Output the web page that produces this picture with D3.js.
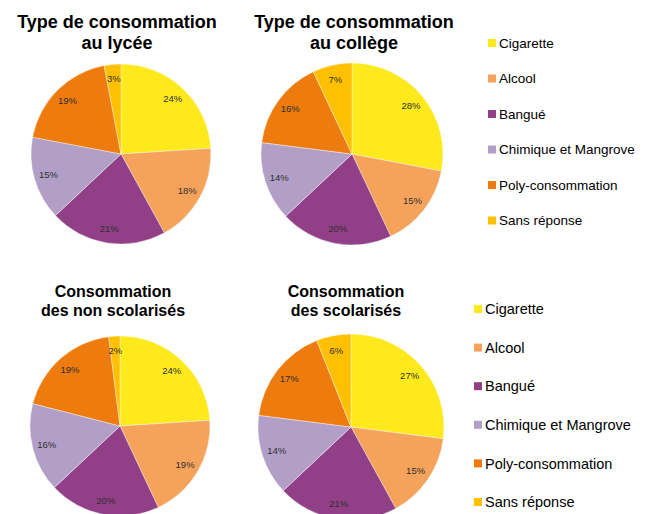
<!DOCTYPE html>
<html>
<head>
<meta charset="utf-8">
<title>Types de consommation</title>
<style>
body {
	margin: 0;
	background: #ffffff;
}
#chart {
	display: block;
}
</style>
<script src="https://d3js.org/d3.v7.min.js"></script>
</head>
<body>
<svg id="chart" width="653" height="514"></svg>
<script>
var categories = ["Cigarette", "Alcool", "Bangué", "Chimique et Mangrove", "Poly-consommation", "Sans réponse"];
var colors = ["#fde91c", "#f5a25b", "#913f86", "#b19fc7", "#ed7b0e", "#ffc000"];

var lyceeValues = [24, 18, 21, 15, 19, 3];
var collegeValues = [28, 15, 20, 14, 16, 7];
var nonScolValues = [24, 19, 20, 16, 19, 2];
var scolValues = [27, 15, 21, 14, 17, 6];

var titles = [
	["Type de consommation", "au lycée"],
	["Type de consommation", "au collège"],
	["Consommation", "des non scolarisés"],
	["Consommation", "des scolarisés"]
];

var svg = d3.select("#chart");

// layout of the four pies
var pies = [
	{ values: lyceeValues, title: titles[0], cx: 121, cy: 154, r: 90, tx: 117, ty: 28, fs: 18, lh: 21 },
	{ values: collegeValues, title: titles[1], cx: 352, cy: 154, r: 91, tx: 354, ty: 28, fs: 18, lh: 21 },
	{ values: nonScolValues, title: titles[2], cx: 120, cy: 426, r: 90, tx: 113, ty: 297, fs: 16, lh: 19 },
	{ values: scolValues, title: titles[3], cx: 351, cy: 427, r: 93, tx: 346, ty: 297, fs: 16, lh: 19 }
];

var pie = d3.pie().sort(null).value(function(d) { return d; });

pies.forEach(function(p) {
	var g = svg.append("g").attr("transform", "translate(" + p.cx + "," + p.cy + ")");
	var arc = d3.arc().innerRadius(0).outerRadius(p.r);
	var labelArc = d3.arc().innerRadius(p.r * 0.84).outerRadius(p.r * 0.84);
	var arcs = pie(p.values);

	g.selectAll("path")
		.data(arcs)
		.enter().append("path")
		.attr("d", arc)
		.attr("fill", function(d, i) { return colors[i]; })
		.attr("stroke", "#ffffff")
		.attr("stroke-width", 0.4);

	g.selectAll("text")
		.data(arcs)
		.enter().append("text")
		.attr("transform", function(d) { return "translate(" + labelArc.centroid(d) + ")"; })
		.attr("text-anchor", "middle")
		.attr("dy", "0.35em")
		.style("font-family", "Liberation Sans, Arial, sans-serif")
		.style("font-size", "9.5px")
		.attr("fill", "#303030")
		.text(function(d) { return d.data + "%"; });

	var t = svg.append("text")
		.attr("x", p.tx)
		.attr("y", p.ty)
		.attr("text-anchor", "middle")
		.style("font-family", "Liberation Sans, Arial, sans-serif")
		.style("font-weight", "bold")
		.style("font-size", p.fs + "px")
		.attr("fill", "#000000");
	p.title.forEach(function(line, i) {
		t.append("tspan").attr("x", p.tx).attr("dy", i ? p.lh : 0).text(line);
	});
});

// legends
var legends = [
	{ x: 488, y: 43, step: 35.5, box: 8, fs: 13.5 },
	{ x: 474, y: 309, step: 38.6, box: 8, fs: 14.5 }
];

legends.forEach(function(l) {
	var y = d3.scaleLinear().domain([0, 1]).range([l.y, l.y + l.step]);
	var lg = svg.append("g");
	var items = lg.selectAll("g")
		.data(categories)
		.enter().append("g")
		.attr("transform", function(d, i) { return "translate(" + l.x + "," + y(i) + ")"; });
	items.append("rect")
		.attr("x", 0)
		.attr("y", -l.box / 2)
		.attr("width", l.box)
		.attr("height", l.box)
		.attr("fill", function(d, i) { return colors[i]; });
	items.append("text")
		.attr("x", l.box + 3)
		.attr("dy", "0.36em")
		.style("font-family", "Liberation Sans, Arial, sans-serif")
		.style("font-size", l.fs + "px")
		.attr("fill", "#000000")
		.text(function(d) { return d; });
});
</script>
</body>
</html>
